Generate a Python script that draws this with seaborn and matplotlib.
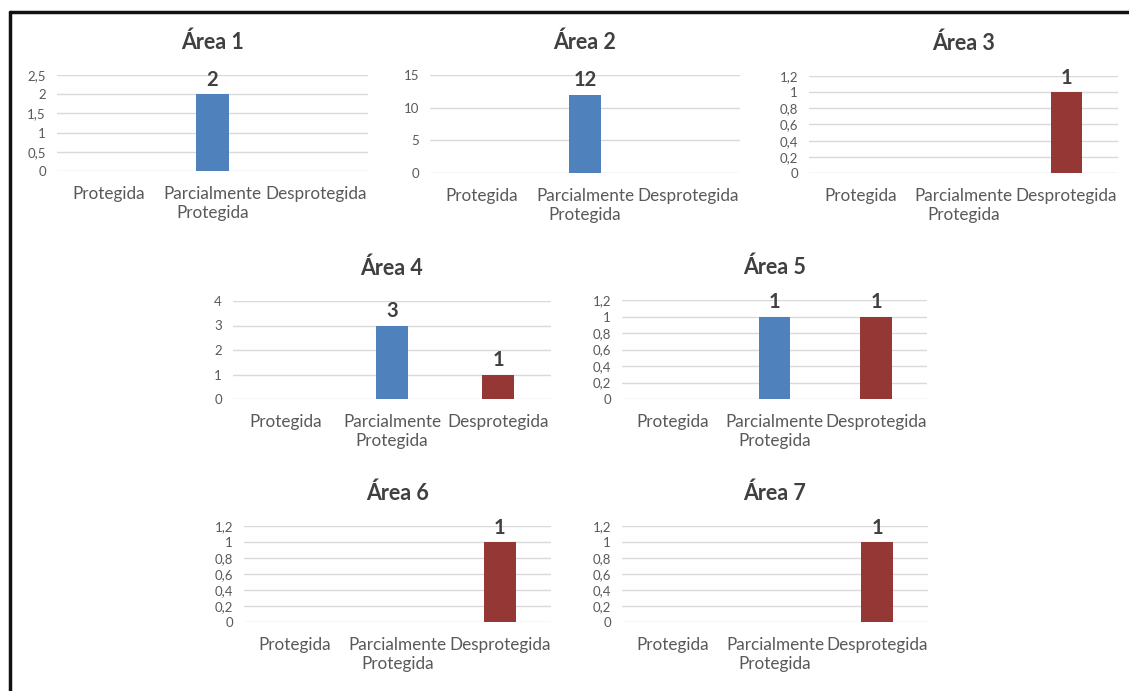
import numpy as np
import pandas as pd
import seaborn as sns
import matplotlib
matplotlib.use("Agg")
import matplotlib.pyplot as plt
from matplotlib.lines import Line2D
from matplotlib.ticker import MultipleLocator, FuncFormatter

# ---- data ----
areas = ["Área 1", "Área 2", "Área 3", "Área 4", "Área 5", "Área 6", "Área 7"]
categories = ["Protegida", "Parcialmente\nProtegida", "Desprotegida"]
protegida = [0, 0, 0, 0, 0, 0, 0]
parcialmente = [2, 12, 0, 3, 1, 0, 0]
desprotegida = [0, 0, 1, 1, 1, 1, 1]

# y-axis range and tick step for each panel
y_max = [2.5, 15, 1.2, 4, 1.2, 1.2, 1.2]
y_step = [0.5, 5, 0.2, 1, 0.2, 0.2, 0.2]

colors = {categories[0]: "#4F81BD", categories[1]: "#4F81BD", categories[2]: "#953735"}

# ---- style ----
sns.set_theme(style="white")
plt.rcParams["font.family"] = ["Lato", "DejaVu Sans"]

W, H = 1129, 691
fig = plt.figure(figsize=(W / 100, H / 100), dpi=100)
fig.patch.set_facecolor("white")

# axes boxes in pixels: left, right, top, bottom
boxes = [
    (57, 368, 75, 171),
    (430, 740, 75, 173),
    (809, 1118, 76, 173),
    (233, 551, 301, 399),
    (622, 927, 300, 399),
    (244, 551, 526, 622),
    (622, 928, 526, 622),
]

comma = FuncFormatter(lambda v, _: f"{v:g}".replace(".", ","))

for i, name in enumerate(areas):
    l, r, t, b = boxes[i]
    ax = fig.add_axes([l / W, 1 - b / H, (r - l) / W, (b - t) / H])
    df = pd.DataFrame({
        "categoria": categories,
        "valor": [protegida[i], parcialmente[i], desprotegida[i]],
    })
    sns.barplot(data=df, x="categoria", y="valor", hue="categoria",
                palette=colors, order=categories, hue_order=categories,
                dodge=False, width=0.31, linewidth=0, saturation=1,
                legend=False, ax=ax)
    ax.set_ylim(0, y_max[i])
    ax.yaxis.set_major_locator(MultipleLocator(y_step[i]))
    ax.yaxis.set_major_formatter(comma)
    ax.set_xlim(-0.5, 2.5)
    ax.yaxis.grid(True, color="#D9D9D9", linewidth=1)
    ax.set_axisbelow(True)
    for s in ax.spines.values():
        s.set_visible(False)
    ax.tick_params(axis="both", length=0)
    ax.tick_params(axis="y", labelsize=9.5, labelcolor="#595959", pad=8)
    ax.tick_params(axis="x", labelsize=12.3, labelcolor="#595959", pad=11)
    ax.set_xlabel("")
    ax.set_ylabel("")
    ax.set_title(name, fontsize=15.5, fontweight="bold", color="#404040", pad=19)
    for c in ax.containers:
        ax.bar_label(c, fmt=lambda v: f"{v:g}" if v > 0 else "",
                     padding=3, fontsize=14.5, fontweight="bold", color="#404040")

# frame lines along the left and top edges
fig.add_artist(Line2D([10 / W, 10 / W], [0, 1 - 12 / H], transform=fig.transFigure,
                      color="#111111", linewidth=2.5))
fig.add_artist(Line2D([10 / W, 1], [1 - 12 / H, 1 - 12 / H], transform=fig.transFigure,
                      color="#111111", linewidth=2.5))

fig.savefig("out.png", dpi=100, facecolor="white")
